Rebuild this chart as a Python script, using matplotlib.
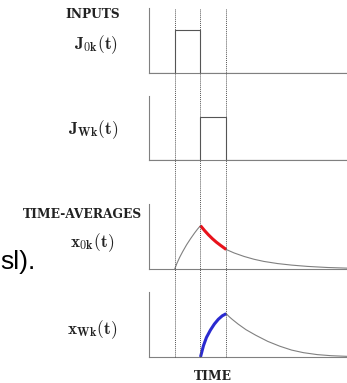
import matplotlib
matplotlib.use("Agg")
import matplotlib.pyplot as plt

plt.rcParams["mathtext.fontset"] = "cm"

# --------------------------------
# Values
# --------------------------------

# time of the dotted markers (start of J0k, switch, end of JWk)
marker_times = [1.3, 2.6, 3.9]

# input pulses (step outlines)
j0k_t = [0.0, 1.3, 1.3, 2.6, 2.6, 10.0]
j0k_y = [0.0, 0.0, 1.0, 1.0, 0.0, 0.0]
jwk_t = [0.0, 2.6, 2.6, 3.9, 3.9, 10.0]
jwk_y = [0.0, 0.0, 1.0, 1.0, 0.0, 0.0]

# x0k(t): rise, red decay, grey tail
x0k_rise_t = [1.3, 1.4, 1.55, 1.7, 1.9, 2.1, 2.3, 2.45, 2.6]
x0k_rise_y = [0.0, 0.12, 0.27, 0.40, 0.56, 0.70, 0.83, 0.92, 1.0]
x0k_red_t = [2.6, 2.8, 3.0, 3.2, 3.4, 3.6, 3.9]
x0k_red_y = [1.0, 0.89, 0.79, 0.70, 0.62, 0.55, 0.45]
x0k_tail_t = [3.9, 4.3, 4.8, 5.3, 5.8, 6.5, 7.2, 8.0, 9.0, 10.0]
x0k_tail_y = [0.45, 0.37, 0.29, 0.225, 0.175, 0.125, 0.09, 0.06, 0.035, 0.02]

# xWk(t): blue rise, grey tail
xwk_blue_t = [2.6, 2.75, 2.9, 3.1, 3.3, 3.5, 3.7, 3.9]
xwk_blue_y = [0.0, 0.26, 0.45, 0.62, 0.76, 0.87, 0.95, 1.0]
xwk_tail_t = [3.9, 4.05, 4.2, 4.5, 4.9, 5.4, 6.0, 6.6, 7.2, 7.8, 8.5, 9.2, 10.0]
xwk_tail_y = [1.0, 0.93, 0.87, 0.76, 0.63, 0.50, 0.36, 0.25, 0.16, 0.10, 0.055, 0.03, 0.015]

# --------------------------------
# Figure
# --------------------------------

W, H = 347, 383
fig = plt.figure(figsize=(W / 100, H / 100), dpi=100)

x0, x1 = 149, 347
panels = [(8, 73), (96, 160), (204, 269), (292, 357)]
grey = "#808080"


def make_ax(top, bottom):
    ax = fig.add_axes([x0 / W, 1 - bottom / H, (x1 - x0) / W, (bottom - top) / H])
    ax.set_xlim(0, 10)
    ax.set_ylim(0, 1.5)
    for s in ["top", "right"]:
        ax.spines[s].set_visible(False)
    for s in ["left", "bottom"]:
        ax.spines[s].set_color(grey)
        ax.spines[s].set_linewidth(0.8)
    ax.set_xticks([])
    ax.set_yticks([])
    ax.patch.set_alpha(0)
    return ax


axes = [make_ax(t, b) for t, b in panels]

axes[0].plot(j0k_t, j0k_y, color="#555555", lw=0.8)
axes[1].plot(jwk_t, jwk_y, color="#555555", lw=0.8)

axes[2].plot(x0k_rise_t, x0k_rise_y, color=grey, lw=0.8)
axes[2].plot(x0k_tail_t, x0k_tail_y, color=grey, lw=0.8)
axes[2].plot(x0k_red_t, x0k_red_y, color="#e8121b", lw=2.2, solid_capstyle="butt")

axes[3].plot(xwk_tail_t, xwk_tail_y, color=grey, lw=0.8)
axes[3].plot(xwk_blue_t, xwk_blue_y, color="#2a2ad0", lw=2.2, solid_capstyle="butt")

# dotted markers across all panels
over = fig.add_axes([x0 / W, 1 - 358 / H, (x1 - x0) / W, (358 - 8) / H])
over.set_xlim(0, 10)
over.set_ylim(0, 1)
over.axis("off")
over.patch.set_alpha(0)
for t in marker_times:
    over.axvline(t, color="#555555", lw=0.7, ls=(0, (1, 1)))

# --------------------------------
# Labels
# --------------------------------

small = dict(family="DejaVu Serif", fontweight="bold", fontsize=8.8, color="#222222")
fig.text(120 / W, 1 - 15 / H, "INPUTS", ha="right", va="center", **small)
fig.text(142 / W, 1 - 215 / H, "TIME-AVERAGES", ha="right", va="center", **small)
fig.text(213 / W, 1 - 376 / H, "TIME", ha="center", va="center", **small)

lab = dict(fontsize=12.5, color="#222222", ha="right", va="center")
fig.text(118 / W, 1 - 45 / H, r"$\mathbf{J}_{\mathbf{0k}}\mathbf{(t)}$", **lab)
fig.text(118 / W, 1 - 130 / H, r"$\mathbf{J}_{\mathbf{Wk}}\mathbf{(t)}$", **lab)
fig.text(114 / W, 1 - 243 / H, r"$\mathbf{x}_{\mathbf{0k}}\mathbf{(t)}$", **lab)
fig.text(118 / W, 1 - 330 / H, r"$\mathbf{x}_{\mathbf{Wk}}\mathbf{(t)}$", **lab)

fig.text(0, 1 - 262 / H, "sl).", family="Liberation Sans", fontsize=19,
         ha="left", va="center", color="black")

fig.savefig("out.png", dpi=100)
